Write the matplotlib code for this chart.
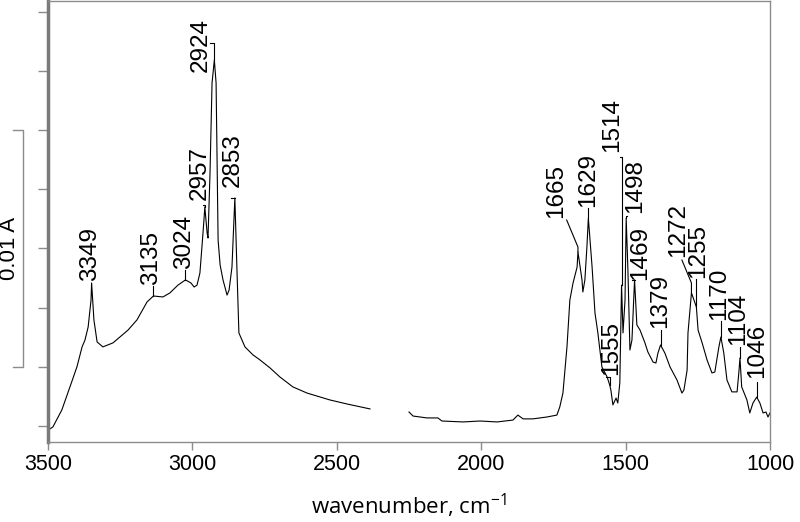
import numpy as np
import matplotlib
matplotlib.use("Agg")
import matplotlib.pyplot as plt
import matplotlib.transforms as mtransforms

# spectrum, two pieces (gap 2385-2250 cm-1), absorbance
wn_high = [3499, 3483, 3452, 3424, 3400, 3382, 3372, 3361, 3351, 3349, 3341, 3330, 3310,
           3275, 3223, 3192, 3157, 3135, 3102, 3078, 3050, 3024, 3005, 2994, 2984, 2974,
           2967, 2960, 2957, 2949, 2946, 2939, 2932, 2924, 2918, 2911, 2904, 2894, 2880,
           2873, 2863, 2853, 2846, 2839, 2818, 2790, 2766, 2731, 2697, 2652, 2603, 2524,
           2465, 2385]
abs_high = [-0.00017, -0.00004, 0.00068, 0.00165, 0.00249, 0.00334, 0.00363, 0.00418,
            0.00532, 0.00604, 0.00448, 0.00355, 0.00334, 0.00351, 0.00405, 0.00448,
            0.00524, 0.00549, 0.00545, 0.00562, 0.00595, 0.00617, 0.00604, 0.00587,
            0.00595, 0.00646, 0.00756, 0.00870, 0.00925, 0.00815, 0.00794, 0.01068,
            0.01449, 0.01546, 0.01449, 0.00785, 0.00680, 0.00617, 0.00553, 0.00574,
            0.00671, 0.00963, 0.00671, 0.00393, 0.00334, 0.00300, 0.00279, 0.00245,
            0.00207, 0.00165, 0.00139, 0.00110, 0.00093, 0.00072]

wn_low = [2250, 2236, 2188, 2150, 2136, 2063, 2004, 1945, 1890, 1873, 1855, 1821, 1772,
          1738, 1728, 1717, 1703, 1693, 1682, 1668, 1665, 1651, 1648, 1641, 1634, 1629,
          1616, 1606, 1596, 1582, 1571, 1564, 1555, 1551, 1544, 1533, 1527, 1520, 1514,
          1509, 1502, 1498, 1492, 1485, 1478, 1469, 1461, 1450, 1433, 1423, 1405, 1395,
          1388, 1379, 1364, 1346, 1322, 1305, 1298, 1287, 1284, 1272, 1267, 1255, 1249,
          1235, 1218, 1201, 1191, 1177, 1170, 1160, 1149, 1132, 1114, 1108, 1104, 1098,
          1080, 1070, 1059, 1046, 1035, 1024, 1014, 1007, 1000]
abs_low = [0.00059, 0.00042, 0.00034, 0.00034, 0.00021, 0.00017, 0.00021, 0.00017,
           0.00025, 0.00046, 0.00030, 0.00030, 0.00038, 0.00046, 0.00080, 0.00139,
           0.00334, 0.00532, 0.00604, 0.00671, 0.00735, 0.00617, 0.00566, 0.00617,
           0.00756, 0.00878, 0.00671, 0.00477, 0.00393, 0.00249, 0.00224, 0.00207,
           0.00173, 0.00152, 0.00089, 0.00118, 0.00097, 0.00182, 0.00595, 0.00393,
           0.00532, 0.00878, 0.00659, 0.00321, 0.00363, 0.00617, 0.00427, 0.00405,
           0.00351, 0.00313, 0.00270, 0.00266, 0.00308, 0.00342, 0.00308, 0.00249,
           0.00194, 0.00139, 0.00152, 0.00236, 0.00393, 0.00562, 0.00545, 0.00503,
           0.00405, 0.00351, 0.00279, 0.00224, 0.00228, 0.00334, 0.00376, 0.00308,
           0.00194, 0.00144, 0.00144, 0.00224, 0.00287, 0.00165, 0.00110, 0.00055,
           0.00097, 0.00122, 0.00097, 0.00055, 0.00059, 0.00038, 0.00055]

# peak labels
peak_labels = ["3349", "3135", "3024", "2957", "2924", "2853", "1665", "1629", "1555",
               "1514", "1498", "1469", "1379", "1272", "1255", "1170", "1104", "1046"]
peak_wn = [3349, 3135, 3024, 2957, 2924, 2853, 1665, 1629, 1555,
           1514, 1498, 1469, 1379, 1272, 1255, 1170, 1104, 1046]
peak_abs = [0.00604, 0.00549, 0.00617, 0.00925, 0.01546, 0.00963, 0.00735, 0.00878, 0.00173,
            0.00595, 0.00878, 0.00617, 0.00342, 0.00562, 0.00503, 0.00376, 0.00287, 0.00122]

# label text (center x, bottom y) and leader start / knee
text_wn = [3355, 3143, 3029, 2974, 2970, 2859, 1741, 1630, 1549,
           1545, 1467, 1450, 1381, 1319, 1249, 1177, 1111, 1045]
text_abs = [0.00612, 0.00595, 0.00663, 0.00954, 0.01495, 0.01009, 0.00878, 0.00925, 0.00215,
            0.01157, 0.00900, 0.00617, 0.00414, 0.00714, 0.00625, 0.00448, 0.00342, 0.00203]
lead_wn = [3349, 3135, 3024, 2963, 2939, 2866, 1704, 1629, 1568,
           1520, 1495, 1478, 1379, 1305, 1255, 1170, 1104, 1046]
lead_abs = [0.00604, 0.00591, 0.00659, 0.00933, 0.01617, 0.00963, 0.00870, 0.00921, 0.00207,
            0.01136, 0.00887, 0.00617, 0.00405, 0.00701, 0.00621, 0.00443, 0.00334, 0.00186]
knee_abs = [0.00604, 0.00591, 0.00659, 0.00933, 0.01617, 0.00963, 0.00756, 0.00921, 0.00207,
            0.01136, 0.00887, 0.00617, 0.00405, 0.00604, 0.00621, 0.00443, 0.00334, 0.00186]

ytick_vals = [0.0, 0.0025, 0.005, 0.0075, 0.01, 0.0125, 0.015, 0.0175]
xtick_vals = [3500, 3000, 2500, 2000, 1500, 1000]

plt.rcParams["font.family"] = ["Liberation Sans", "DejaVu Sans"]
grey = "#8c8c8c"

fig = plt.figure(figsize=(8, 5.22), dpi=100)
ax = fig.add_axes([0.06, 0.1533, 0.9025, 0.8447])

ax.plot(wn_high, abs_high, color="black", lw=0.8)
ax.plot(wn_low, abs_low, color="black", lw=0.8)

for i, lab in enumerate(peak_labels):
    ax.plot([lead_wn[i], peak_wn[i], peak_wn[i]],
            [lead_abs[i], knee_abs[i], peak_abs[i]], color="black", lw=0.8)
    ax.text(text_wn[i], text_abs[i], lab, rotation=90, ha="center", va="bottom",
            fontsize=17.5)

ax.set_xlim(3500, 1000)
ax.set_ylim(-0.000676, 0.01795)
ax.set_xticks(xtick_vals)
ax.set_xticklabels([str(v) for v in xtick_vals], fontsize=15.5)
ax.set_yticks(ytick_vals)
ax.set_yticklabels([])
ax.tick_params(axis="both", colors=grey, labelcolor="black", direction="out")
ax.tick_params(axis="y", length=7, width=1)
ax.tick_params(axis="x", length=6, width=1, pad=3)

for side in ["top", "right", "bottom"]:
    ax.spines[side].set_color(grey)
    ax.spines[side].set_linewidth(1)
ax.spines["left"].set_color("#7a7a7a")
ax.spines["left"].set_linewidth(2.5)

ax.set_xlabel(r"wavenumber, cm$\mathregular{^{-1}}$", fontsize=16,
              fontfamily=["Open Sans", "DejaVu Sans"], labelpad=12)

# 0.01 A scale bar
trans = mtransforms.blended_transform_factory(ax.transAxes, ax.transData)
bar_lo, bar_hi = 0.0025, 0.0125
ax.plot([-0.0485, -0.0346, -0.0346, -0.0485], [bar_lo, bar_lo, bar_hi, bar_hi],
        color=grey, lw=1, transform=trans, clip_on=False)
ax.text(-0.054, (bar_lo + bar_hi) / 2, "0.01 A", rotation=90, ha="center", va="center",
        fontsize=16, transform=trans)

fig.savefig("out.png", dpi=100)
